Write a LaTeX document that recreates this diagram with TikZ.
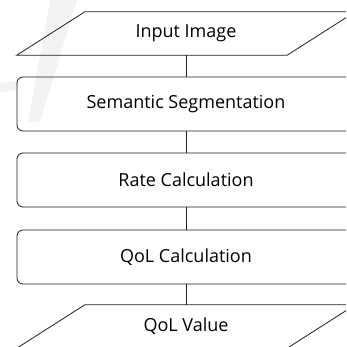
\documentclass[tikz,border=0pt]{standalone}
\usepackage{fontspec}
\setmainfont{Open Sans}
\usepackage{tikz}
\definecolor{linegray}{RGB}{30, 30, 30}
\definecolor{markgray}{RGB}{243, 243, 243}

\begin{document}
\begin{tikzpicture}[x=1pt, y=-1pt, font=\fontsize{18}{21}\selectfont,
    line/.style={draw=linegray, line width=0.8pt},
    stepbox/.style={line, rounded corners=6pt, rectangle, minimum width=338pt, minimum height=54pt},
    iobox/.style={rectangle, minimum width=270pt, minimum height=43pt}]
            \useasboundingbox (0,0) rectangle (346,347);
            \clip (0,0) rectangle (346,347);
            % Faint mark behind the chart
            \fill[markgray] (50,0) -- (77,0) -- (40,122) -- (28,122) -- cycle;
            \fill[markgray] (0,83) -- (20,81) -- (17,90) -- (0,92) -- cycle;
            
            % Input
            \node[iobox] (input) at (186,33.5) {Input Image};
            \draw[line] ([xshift=-34pt]input.south west) -- ([xshift=-34pt]input.south east) -- ([xshift=34pt]input.north east) -- ([xshift=34pt]input.north west) -- cycle;
            
            % Processing steps
            \node[stepbox] (segment) at (186,104) {Semantic Segmentation};
            \node[stepbox] (rate) at (186,180) {Rate Calculation};
            \node[stepbox] (qolcalc) at (186,257) {QoL Calculation};
            
            % Output
            \node[iobox] (output) at (186,326.5) {QoL Value};
            \draw[line] ([xshift=-34pt]output.south west) -- ([xshift=-34pt]output.south east) -- ([xshift=34pt]output.north east) -- ([xshift=34pt]output.north west) -- cycle;
            
            % Lines
            \draw[line] (input) -- (segment);
            \draw[line] (segment) -- (rate);
            \draw[line] (rate) -- (qolcalc);
            \draw[line] (qolcalc) -- (output);
        \end{tikzpicture}
\end{document}
